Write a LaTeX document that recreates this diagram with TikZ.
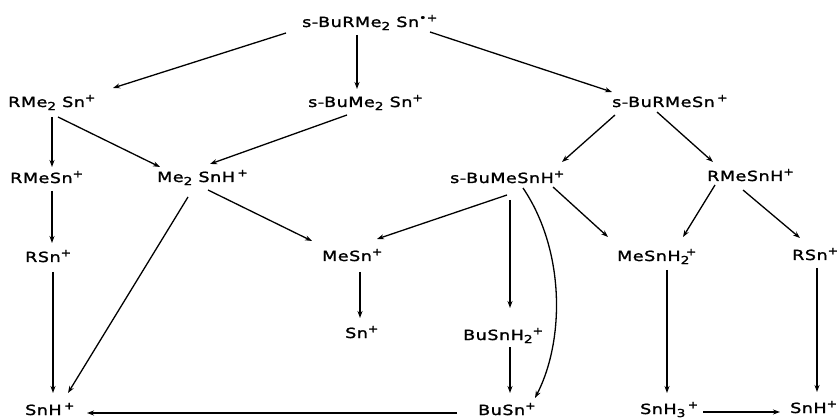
\documentclass[tikz,border=0pt]{standalone}
\usepackage{fontspec}
\setmainfont{DejaVu Sans}[FakeStretch=1.25,LetterSpace=4,FakeBold=1.5]
\usetikzlibrary{arrows.meta}
\newcommand{\mysub}[1]{\raisebox{-0.4ex}{\fontsize{11}{11}\selectfont #1}}
\newcommand{\mysup}[1]{\raisebox{0.75ex}{\fontsize{10}{10}\selectfont #1}}
\newcommand{\mysubsup}[2]{\mysub{#1}\kern-0.25em\mysup{#2}}
\begin{document}
\begin{tikzpicture}[x=1pt,y=-1pt,
  sp/.style={anchor=base west,inner sep=0pt,font=\fontsize{14}{16}\selectfont},
  arr/.style={line width=1.3pt,-{Stealth[length=7pt,width=5pt]}}]
\useasboundingbox (0,0) rectangle (837,419);
\node[sp] (top) at (302,27) {s-BuRMe\mysub{2} Sn\mysup{•+}};
\node[sp] (rme2sn) at (8,107) {RMe\mysub{2} Sn\mysup{+}};
\node[sp] (sbume2sn) at (308,107) {s-BuMe\mysub{2} Sn\mysup{+}};
\node[sp] (sburmesn) at (612,107) {s-BuRMeSn\,\mysup{+}};
\node[sp] (rmesn) at (10,183) {RMeSn\mysup{+}};
\node[sp] (me2snh) at (157,182) {Me\mysub{2} SnH\,\mysup{+}};
\node[sp] (sbumesnh) at (450,183) {s-BuMeSnH\mysup{+}};
\node[sp] (rmesnh) at (707,181) {RMeSnH\mysup{+}};
\node[sp] (rsnL) at (25,262) {RSn\mysup{+}};
\node[sp] (mesn) at (322,261) {MeSn\mysup{+}};
\node[sp] (mesnh2) at (617,261) {MeSnH\mysubsup{2}{+}};
\node[sp] (rsnR) at (792,260) {RSn\mysup{+}};
\node[sp] (sn) at (345,338) {Sn\mysup{+}};
\node[sp] (busnh2) at (463,340) {BuSnH\mysub{2}\mysup{+}};
\node[sp] (snhL) at (25,415) {SnH\,\mysup{+}};
\node[sp] (busn) at (478,415) {BuSn\mysup{+}};
\node[sp] (snh3) at (640,414) {SnH\mysub{3}\,\mysup{+}};
\node[sp] (snhR) at (790,413) {SnH\mysup{+}};
% connectors
\draw[arr] ([xshift=-16pt,yshift=-6pt]top.base west) -- ([xshift=105pt,yshift=19pt]rme2sn.base west);
\draw[arr] ([xshift=55pt,yshift=-8pt]top.base west) -- ([xshift=49pt,yshift=18pt]sbume2sn.base west);
\draw[arr] ([xshift=128pt,yshift=-5pt]top.base west) -- ([xshift=0pt,yshift=15pt]sburmesn.base west);
\draw[arr] ([xshift=44pt,yshift=-10pt]rme2sn.base west) -- ([xshift=42pt,yshift=16pt]rmesn.base west);
\draw[arr] ([xshift=50pt,yshift=-10pt]rme2sn.base west) -- ([xshift=3pt,yshift=15pt]me2snh.base west);
\draw[arr] ([xshift=39pt,yshift=-8pt]sbume2sn.base west) -- ([xshift=53pt,yshift=18pt]me2snh.base west);
\draw[arr] ([xshift=3pt,yshift=-8pt]sburmesn.base west) -- ([xshift=112pt,yshift=21pt]sbumesnh.base west);
\draw[arr] ([xshift=45pt,yshift=-5pt]sburmesn.base west) -- ([xshift=6pt,yshift=19pt]rmesnh.base west);
\draw[arr] ([xshift=42pt,yshift=-8pt]rmesn.base west) -- ([xshift=27pt,yshift=19pt]rsnL.base west);
\draw[arr] ([xshift=28pt,yshift=-10pt]rsnL.base west) -- ([xshift=28pt,yshift=22pt]snhL.base west);
\draw[arr] ([xshift=31pt,yshift=-15pt]me2snh.base west) -- ([xshift=43pt,yshift=22pt]snhL.base west);
\draw[arr] ([xshift=51pt,yshift=-8pt]me2snh.base west) -- ([xshift=-10pt,yshift=20pt]mesn.base west);
\draw[arr] ([xshift=57pt,yshift=-12pt]sbumesnh.base west) -- ([xshift=55pt,yshift=22pt]mesn.base west);
\draw[arr] ([xshift=60pt,yshift=-17pt]sbumesnh.base west) -- ([xshift=47pt,yshift=32pt]busnh2.base west);
\draw[arr] ([xshift=73pt,yshift=-5pt]sbumesnh.base west) .. controls (565,250) and (565,340) .. ([xshift=57pt,yshift=17pt]busn.base west);
\draw[arr] ([xshift=103pt,yshift=-4pt]sbumesnh.base west) -- ([xshift=-9pt,yshift=24pt]mesnh2.base west);
\draw[arr] ([xshift=8pt,yshift=-4pt]rmesnh.base west) -- ([xshift=66pt,yshift=24pt]mesnh2.base west);
\draw[arr] ([xshift=36pt,yshift=-9pt]rmesnh.base west) -- ([xshift=8pt,yshift=22pt]rsnR.base west);
\draw[arr] ([xshift=38pt,yshift=-11pt]mesn.base west) -- ([xshift=15pt,yshift=20pt]sn.base west);
\draw[arr] ([xshift=47pt,yshift=-7pt]busnh2.base west) -- ([xshift=32pt,yshift=22pt]busn.base west);
\draw[arr] ([xshift=-21pt,yshift=2pt]busn.base west) -- ([xshift=62pt,yshift=2pt]snhL.base west);
\draw[arr] ([xshift=50pt,yshift=-9pt]mesnh2.base west) -- ([xshift=27pt,yshift=21pt]snh3.base west);
\draw[arr] ([xshift=25pt,yshift=-8pt]rsnR.base west) -- ([xshift=27pt,yshift=21pt]snhR.base west);
\draw[arr] ([xshift=63pt,yshift=2pt]snh3.base west) -- ([xshift=-10pt,yshift=1pt]snhR.base west);
\end{tikzpicture}
\end{document}
